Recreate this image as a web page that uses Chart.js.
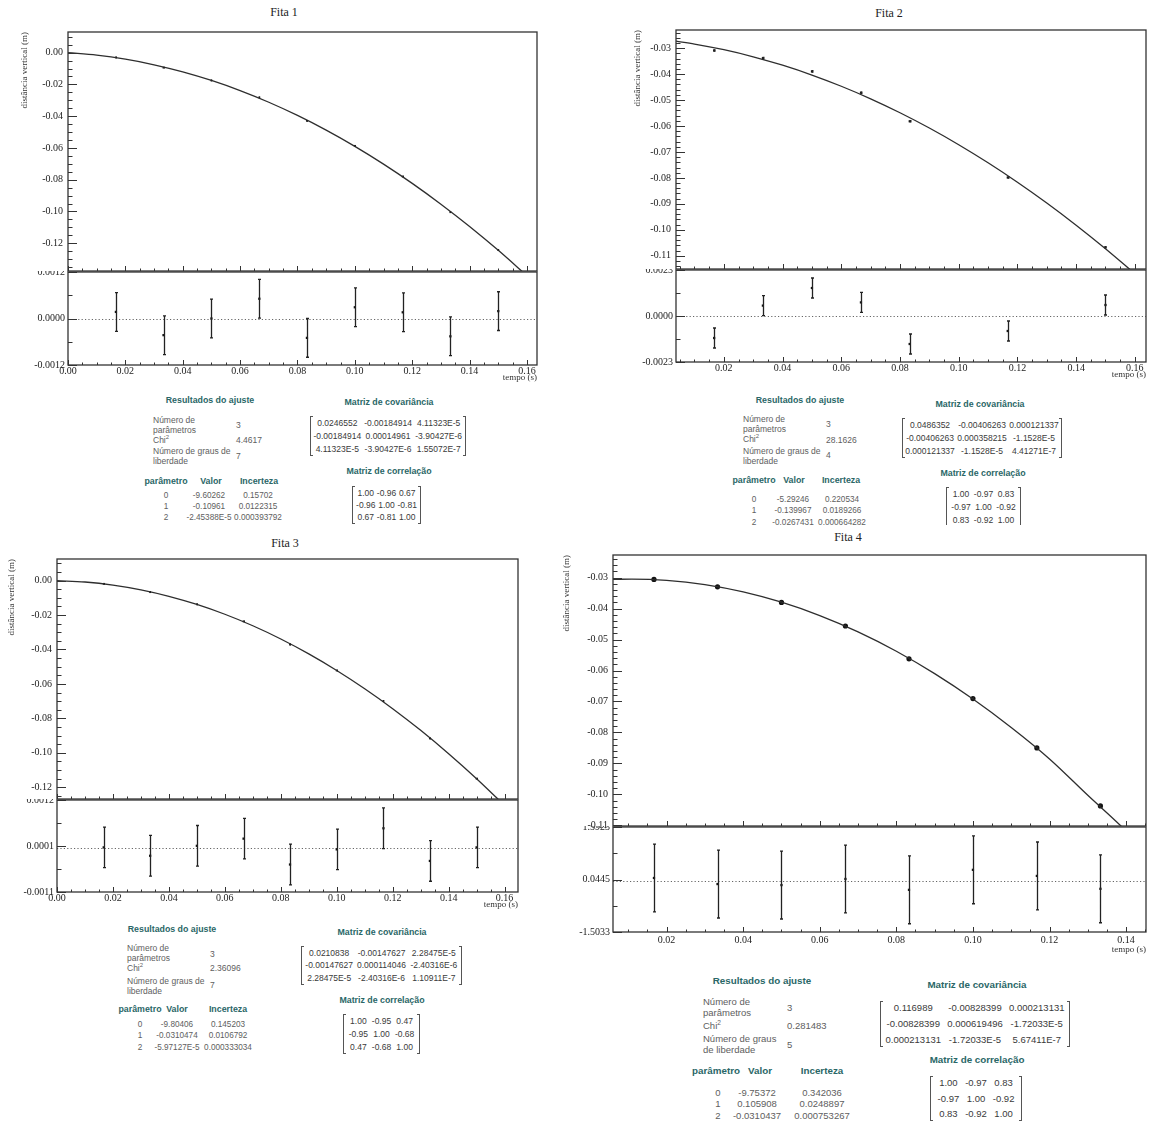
<!DOCTYPE html>
<html><head><meta charset="utf-8">
<script src="https://cdn.jsdelivr.net/npm/chart.js@4.4.1/dist/chart.umd.min.js"></script>
<style>
html,body{margin:0;padding:0;background:#fff}
body{width:1150px;height:1126px;position:relative;overflow:hidden}
canvas.cv{position:absolute}
.wrap{position:absolute;overflow:hidden}
.wrap canvas{position:absolute;left:0}
.ptitle{position:absolute;font-family:"Liberation Serif",serif;font-size:12px;color:#222;transform:translate(-50%,-50%);white-space:nowrap}
.t{position:absolute;font-family:"Liberation Sans",Arial,sans-serif;white-space:nowrap;line-height:1}
.t sup{font-size:70%;vertical-align:top;position:relative;top:-1px}
.clip{position:absolute;left:0;top:0;width:1150px;overflow:hidden}
.br{position:absolute;border:1px solid #555;width:3px;box-sizing:border-box}
.br.l{border-right:none}
.br.r{border-left:none}
</style></head><body>
<div class="clip" id="clipTop" style="height:525px"></div>
<div class="clip" id="clipBot" style="height:1126px"></div>
<script>
// ------------------------- DATA -------------------------
const xTicks = [0, 0.02, 0.04, 0.06, 0.08, 0.10, 0.12, 0.14, 0.16];
const xLabels = ['0.00','0.02','0.04','0.06','0.08','0.10','0.12','0.14','0.16'];
const yTicks02 = [0, -0.02, -0.04, -0.06, -0.08, -0.10, -0.12];
const yLabels02 = ['0.00','-0.02','-0.04','-0.06','-0.08','-0.10','-0.12'];
const yTicks01 = [-0.03, -0.04, -0.05, -0.06, -0.07, -0.08, -0.09, -0.10, -0.11];
const yLabels01 = ['-0.03','-0.04','-0.05','-0.06','-0.07','-0.08','-0.09','-0.10','-0.11'];
const curveT = [0, 0.01, 0.02, 0.03, 0.04, 0.05, 0.06, 0.07, 0.08, 0.09, 0.10, 0.11, 0.12, 0.13, 0.14, 0.15, 0.16];

// Fita 1
const fita1Tempo = [0.0167, 0.0333, 0.0500, 0.0667, 0.0833, 0.1000, 0.1167, 0.1333, 0.1500];
const fita1Dist = [-0.00302, -0.00944, -0.01751, -0.02817, -0.04300, -0.05871, -0.07800, -0.10046, -0.12431];
const fita1DistErr = [0.0005, 0.0005, 0.0005, 0.0005, 0.0005, 0.0005, 0.0005, 0.0005, 0.0005];
const fita1Res = [0.00017, -0.00043, 0.00000, 0.00051, -0.00050, 0.00029, 0.00016, -0.00046, 0.00019];
const fita1ResErr = [0.0005, 0.0005, 0.0005, 0.0005, 0.0005, 0.0005, 0.0005, 0.0005, 0.0005];
const fita1CurveT = curveT;
const fita1CurveY = [-0.00002, -0.00160, -0.00414, -0.00763, -0.01209, -0.01751, -0.02388, -0.03122, -0.03952, -0.04878, -0.05900, -0.07018, -0.08231, -0.09542, -0.10947, -0.12450, -0.14048];
const fita1ResTicks = [-0.0012, 0, 0.0012];
const fita1ResLabels = ['-0.0012', '0.0000', '0.0012'];
const fita1Fit = ['3', '4.4617', '7'];
const fita1Valor = ['-9.60262', '-0.10961', '-2.45388E-5'];
const fita1Incerteza = ['0.15702', '0.0122315', '0.000393792'];
const fita1Cov = [['0.0246552','-0.00184914','4.11323E-5'],['-0.00184914','0.00014961','-3.90427E-6'],['4.11323E-5','-3.90427E-6','1.55072E-7']];
const fita1Corr = [['1.00','-0.96','0.67'],['-0.96','1.00','-0.81'],['0.67','-0.81','1.00']];

// Fita 2
const fita2Tempo = [0.0167, 0.0333, 0.0500, 0.0667, 0.0833, 0.1167, 0.1500];
const fita2Dist = [-0.03090, -0.03383, -0.03896, -0.04716, -0.05818, -0.07984, -0.10673];
const fita2DistErr = [0.0005, 0.0005, 0.0005, 0.0005, 0.0005, 0.0005, 0.0005];
const fita2Res = [-0.00110, 0.00052, 0.00140, 0.00068, -0.00140, -0.00075, 0.00055];
const fita2ResErr = [0.0005, 0.0005, 0.0005, 0.0005, 0.0005, 0.0005, 0.0005];
const fita2CurveT = [0.0037, 0.01, 0.02, 0.03, 0.04, 0.05, 0.06, 0.07, 0.08, 0.09, 0.10, 0.11, 0.12, 0.13, 0.14, 0.15, 0.16];
const fita2CurveY = [-0.02730, -0.02841, -0.03060, -0.03332, -0.03658, -0.04036, -0.04467, -0.04951, -0.05488, -0.06077, -0.06720, -0.07416, -0.08165, -0.08966, -0.09821, -0.10728, -0.11688];
const fita2ResTicks = [-0.0023, 0, 0.0023];
const fita2ResLabels = ['-0.0023', '0.0000', '0.0023'];
const fita2Fit = ['3', '28.1626', '4'];
const fita2Valor = ['-5.29246', '-0.139967', '-0.0267431'];
const fita2Incerteza = ['0.220534', '0.0189266', '0.000664282'];
const fita2Cov = [['0.0486352','-0.00406263','0.000121337'],['-0.00406263','0.000358215','-1.1528E-5'],['0.000121337','-1.1528E-5','4.41271E-7']];
const fita2Corr = [['1.00','-0.97','0.83'],['-0.97','1.00','-0.92'],['0.83','-0.92','1.00']];

// Fita 3
const fita3Tempo = [0.0167, 0.0333, 0.0500, 0.0667, 0.0833, 0.1000, 0.1167, 0.1333, 0.1500];
const fita3Dist = [-0.00192, -0.00673, -0.01381, -0.02368, -0.03710, -0.05221, -0.06990, -0.09167, -0.11499];
const fita3DistErr = [0.0005, 0.0005, 0.0005, 0.0005, 0.0005, 0.0005, 0.0005, 0.0005, 0.0005];
const fita3Res = [0.00002, -0.00019, 0.00006, 0.00024, -0.00041, -0.00003, 0.00050, -0.00032, 0.00002];
const fita3ResErr = [0.00051, 0.00051, 0.00051, 0.00051, 0.00051, 0.00051, 0.00051, 0.00051, 0.00051];
const fita3CurveT = curveT;
const fita3CurveY = [-0.00006, -0.00086, -0.00264, -0.00540, -0.00914, -0.01387, -0.01957, -0.02625, -0.03392, -0.04256, -0.05218, -0.06279, -0.07437, -0.08694, -0.10049, -0.11501, -0.13052];
const fita3ResTicks = [-0.0011, 0.000055, 0.00121];
const fita3ResLabels = ['-0.0011', '0.0001', '0.0012'];
const fita3Fit = ['3', '2.36096', '7'];
const fita3Valor = ['-9.80406', '-0.0310474', '-5.97127E-5'];
const fita3Incerteza = ['0.145203', '0.0106792', '0.000333034'];
const fita3Cov = [['0.0210838','-0.00147627','2.28475E-5'],['-0.00147627','0.000114046','-2.40316E-6'],['2.28475E-5','-2.40316E-6','1.10911E-7']];
const fita3Corr = [['1.00','-0.95','0.47'],['-0.95','1.00','-0.68'],['0.47','-0.68','1.00']];

// Fita 4
const fita4Tempo = [0.0167, 0.0333, 0.0500, 0.0667, 0.0833, 0.1000, 0.1167, 0.1333];
const fita4Dist = [-0.03059, -0.03297, -0.03800, -0.04563, -0.05621, -0.06905, -0.08499, -0.10373];
const fita4DistErr = [0.0005, 0.0005, 0.0005, 0.0005, 0.0005, 0.0005, 0.0005, 0.0005];
const fita4Res = [0.09, -0.09, -0.12, 0.06, -0.26, 0.33, 0.15, -0.23];
const fita4ResErr = [1.0, 1.0, 1.0, 1.0, 1.0, 1.0, 1.0, 1.0];
const fita4CurveT = [0.006, 0.0109, 0.02, 0.03, 0.04, 0.05, 0.06, 0.07, 0.08, 0.09, 0.10, 0.11, 0.12, 0.13, 0.14, 0.15];
const fita4CurveY = [-0.03058, -0.03047, -0.03088, -0.03226, -0.03461, -0.03794, -0.04225, -0.04753, -0.05378, -0.06101, -0.06922, -0.07840, -0.08856, -0.10029, -0.11180, -0.12489];
const fita4ResTicks = [-1.5033, 0.0445, 1.5923];
const fita4ResLabels = ['-1.5033', '0.0445', '1.5923'];
const fita4Fit = ['3', '0.281483', '5'];
const fita4Valor = ['-9.75372', '0.105908', '-0.0310437'];
const fita4Incerteza = ['0.342036', '0.0248897', '0.000753267'];
const fita4Cov = [['0.116989','-0.00828399','0.000213131'],['-0.00828399','0.000619496','-1.72033E-5'],['0.000213131','-1.72033E-5','5.67411E-7']];
const fita4Corr = [['1.00','-0.97','0.83'],['-0.97','1.00','-0.92'],['0.83','-0.92','1.00']];

const fitLabels = ['Número de', 'parâmetros', 'Chi2', 'Número de graus de', 'liberdade'];
const fitLabels4 = ['Número de', 'parâmetros', 'Chi2', 'Número de graus', 'de liberdade'];
const paramHead = ['parâmetro', 'Valor', 'Incerteza'];
const paramIdx = ['0', '1', '2'];

// ------------------------- PLUGINS -------------------------
Chart.defaults.font.family = '"Liberation Serif","Times New Roman",serif';
Chart.defaults.font.size = 10;
Chart.defaults.color = '#222';

function subTicks(majors, sub, min, max) {
  const m = majors.slice().sort((a, b) => a - b);
  const out = [];
  if (m.length < 2) return out;
  const step = (m[1] - m[0]) / sub;
  const base = m[0];
  const k0 = Math.ceil((min - base) / step - 1e-6), k1 = Math.floor((max - base) / step + 1e-6);
  for (let k = k0; k <= k1; k++) out.push({ v: base + k * step, major: ((k % sub) + sub) % sub === 0 });
  return out;
}

const rootFrame = {
  id: 'rootFrame',
  beforeDatasetsDraw(chart, args, o) {
    if (o.zero == null) return;
    const { ctx, chartArea: a } = chart;
    const py = Math.round(chart.scales.y.getPixelForValue(o.zero)) + 0.5;
    ctx.save();
    ctx.strokeStyle = '#666'; ctx.lineWidth = 1; ctx.setLineDash([1.2, 2.2]);
    ctx.beginPath(); ctx.moveTo(a.left, py); ctx.lineTo(a.right, py); ctx.stroke();
    ctx.restore();
  },
  afterDatasetsDraw(chart, args, o) {
    const { ctx, chartArea: a } = chart;
    const x = chart.scales.x, y = chart.scales.y;
    ctx.save();
    ctx.strokeStyle = '#333'; ctx.lineWidth = 1;
    ctx.beginPath();
    subTicks(o.yMajors, o.ySub, y.min, y.max).forEach(t => {
      const p = Math.round(y.getPixelForValue(t.v)) + 0.5;
      ctx.moveTo(a.left, p); ctx.lineTo(a.left + (t.major ? o.yLen[0] : o.yLen[1]), p);
    });
    subTicks(o.xMajors, o.xSub, x.min, x.max).forEach(t => {
      const p = Math.round(x.getPixelForValue(t.v)) + 0.5;
      ctx.moveTo(p, a.bottom); ctx.lineTo(p, a.bottom - (t.major ? o.xLen[0] : o.xLen[1]));
    });
    ctx.stroke();
    ctx.lineWidth = 1.3; ctx.strokeStyle = '#333';
    ctx.strokeRect(a.left, a.top, a.right - a.left, a.bottom - a.top);
    ctx.restore();
  }
};

const errorBars = {
  id: 'errorBars',
  afterDatasetsDraw(chart) {
    const { ctx, chartArea: a } = chart;
    const y = chart.scales.y;
    chart.data.datasets.forEach((ds, i) => {
      if (!ds.errors) return;
      const meta = chart.getDatasetMeta(i);
      ctx.save();
      ctx.beginPath(); ctx.rect(a.left, a.top, a.right - a.left, a.bottom - a.top); ctx.clip();
      ctx.strokeStyle = '#222'; ctx.lineWidth = ds.errorWidth || 1.2;
      ctx.beginPath();
      meta.data.forEach((pt, j) => {
        const v = ds.data[j].y, e = ds.errors[j];
        const y1 = y.getPixelForValue(v - e), y2 = y.getPixelForValue(v + e);
        const px = Math.round(pt.x) + 0.5, c = ds.capHalf || 0;
        ctx.moveTo(px, y1); ctx.lineTo(px, y2);
        if (c > 0) { ctx.moveTo(px - c, y1); ctx.lineTo(px + c, y1); ctx.moveTo(px - c, y2); ctx.lineTo(px + c, y2); }
      });
      ctx.stroke();
      ctx.restore();
    });
  }
};

function pts(xs, ys) { return xs.map((t, i) => ({ x: t, y: ys[i] })); }
function tickSetter(vals) {
  return s => { s.ticks = vals.filter(v => v >= s.min - 1e-9 && v <= s.max + 1e-9).map(v => ({ value: v })); };
}
function labeler(vals, labels) { return v => labels[vals.indexOf(v)]; }

function makeCanvas(parent, left, topPx, w, h) {
  const c = document.createElement('canvas');
  c.className = 'cv'; c.width = w; c.height = h;
  c.style.left = left + 'px'; c.style.top = topPx + 'px';
  c.style.width = w + 'px'; c.style.height = h + 'px';
  parent.appendChild(c);
  return c;
}

function buildPanel(g, d) {
  const tt = document.createElement('div');
  tt.className = 'ptitle'; tt.textContent = d.title;
  tt.style.left = g.titleX + 'px'; tt.style.top = g.titleY + 'px';
  document.body.appendChild(tt);

  const cw = g.cr - g.cl, yW = g.L - g.cl, padR = g.cr - g.R;
  const mTop = g.T - 30, mH = g.S - mTop + 10;
  const mc = makeCanvas(document.body, g.cl, mTop, cw, mH);
  new Chart(mc, {
    type: 'scatter',
    data: { datasets: [
      { data: pts(d.curveT, d.curveY), showLine: true, pointRadius: 0, borderColor: '#2e2e2e', borderWidth: 1.3, cubicInterpolationMode: 'monotone', fill: false },
      { data: pts(d.t, d.y), showLine: false, pointStyle: d.ptStyle, pointRadius: d.ptR, backgroundColor: '#111', borderColor: '#111', borderWidth: 0, errors: d.yErr, capHalf: 0, errorWidth: d.errW }
    ] },
    options: {
      responsive: false, animation: false, events: [],
      layout: { padding: { top: 30, bottom: 10, left: 0, right: padR } },
      plugins: { legend: { display: false }, tooltip: { enabled: false },
        rootFrame: { yMajors: d.yTicks, ySub: d.ySub, yLen: [9, 4.5], xMajors: xTicks, xSub: 4, xLen: [5, 2.5] } },
      scales: {
        x: { type: 'linear', display: false, min: d.xmin, max: d.xmax },
        y: { type: 'linear', min: d.ymin, max: d.ymax,
          afterBuildTicks: tickSetter(d.yTicks), afterFit: s => { s.width = yW; },
          grid: { display: false, drawTicks: false, tickLength: 0 }, border: { display: false },
          ticks: { padding: 5, autoSkip: false, callback: labeler(d.yTicks, d.yLabels) },
          title: { display: true, text: 'distância vertical (m)', align: 'end', color: '#333', font: { size: 9 },
            padding: { top: g.yTitleX - g.cl - 5.4, bottom: 0 } } }
      }
    },
    plugins: [rootFrame, errorBars]
  });

  const xH = 34;
  const wrap = document.createElement('div');
  wrap.className = 'wrap';
  wrap.style.left = g.cl + 'px'; wrap.style.top = (g.S - 1) + 'px';
  wrap.style.width = cw + 'px'; wrap.style.height = (g.B - g.S + 1 + xH) + 'px';
  document.body.appendChild(wrap);
  const rH = g.B - (g.S - 12) + xH;
  const rc = makeCanvas(wrap, 0, -11, cw, rH);
  new Chart(rc, {
    type: 'scatter',
    data: { datasets: [
      { data: pts(d.t, d.res), showLine: false, pointStyle: 'rect', pointRadius: 1.6, backgroundColor: '#111', borderColor: '#111', borderWidth: 0, errors: d.resErr, capHalf: 1.5, errorWidth: 1.3 }
    ] },
    options: {
      responsive: false, animation: false, events: [],
      layout: { padding: { top: 12, bottom: 0, left: 0, right: padR } },
      plugins: { legend: { display: false }, tooltip: { enabled: false },
        rootFrame: { zero: 0, yMajors: d.resTicks, ySub: 2, yLen: [9, 4.5], xMajors: xTicks, xSub: 4, xLen: [5, 2.5] } },
      scales: {
        x: { type: 'linear', min: d.xmin, max: d.xmax,
          afterBuildTicks: tickSetter(xTicks), afterFit: s => { s.height = xH; },
          grid: { display: false, drawTicks: false, tickLength: 0 }, border: { display: false },
          ticks: { padding: g.xLabPad, autoSkip: false, maxRotation: 0, callback: labeler(xTicks, xLabels) },
          title: { display: true, text: 'tempo (s)', align: 'end', color: '#333', font: { size: 9 },
            padding: { top: 0, bottom: xH - g.tempoOff - 5.4 } } },
        y: { type: 'linear', min: d.rmin, max: d.rmax,
          afterBuildTicks: tickSetter(d.resTicks), afterFit: s => { s.width = yW; },
          grid: { display: false, drawTicks: false, tickLength: 0 }, border: { display: false },
          ticks: { padding: 3, autoSkip: false, callback: labeler(d.resTicks, d.resLabels) } }
      }
    },
    plugins: [rootFrame, errorBars]
  });
}

// ------------------------- TEXT BLOCKS -------------------------
const HEAD = '#2a6767', BODY = '#5e5e5e', MAT = '#3a3a3a';
function txt(parent, x, y, s, align, style) {
  const d = document.createElement('div');
  d.className = 't';
  if (s === 'Chi2') d.innerHTML = 'Chi<sup>2</sup>'; else d.textContent = s;
  d.style.left = x + 'px'; d.style.top = y + 'px';
  d.style.transform = align === 'center' ? 'translate(-50%,-50%)' : 'translateY(-50%)';
  Object.assign(d.style, style);
  parent.appendChild(d);
}
function bracket(parent, L, R, t0, t1) {
  const l = document.createElement('div'); l.className = 'br l';
  l.style.left = L + 'px'; l.style.top = t0 + 'px'; l.style.height = (t1 - t0) + 'px';
  const r = document.createElement('div'); r.className = 'br r';
  r.style.left = (R - 3) + 'px'; r.style.top = t0 + 'px'; r.style.height = (t1 - t0) + 'px';
  parent.appendChild(l); parent.appendChild(r);
}
function fitBlock(parent, g, d) {
  const fs = g.fs + 'px', hs = (g.fs + 0.3) + 'px';
  const hst = { fontSize: hs, fontWeight: 'bold', color: HEAD };
  const bst = { fontSize: fs, color: BODY };
  const vst = { fontSize: g.vfs + 'px', color: BODY };
  const mst = { fontSize: fs, color: MAT };
  txt(parent, g.head[0], g.head[1], 'Resultados do ajuste', 'center', hst);
  d.labels.forEach((s, i) => txt(parent, g.lx, g.lys[i], s, 'left', bst));
  d.fit.forEach((s, i) => txt(parent, g.vx, g.vys[i], s, 'left', bst));
  paramHead.forEach((s, i) => txt(parent, g.hcols[i], g.th, s, 'center', hst));
  paramIdx.forEach((s, i) => {
    txt(parent, g.cols[0], g.rows[i], s, 'center', vst);
    txt(parent, g.cols[1], g.rows[i], d.valor[i], 'center', vst);
    txt(parent, g.cols[2], g.rows[i], d.inc[i], 'center', vst);
  });
  [[g.cov, d.cov, 'Matriz de covariância', [0.175, 0.5, 0.825]], [g.corr, d.corr, 'Matriz de correlação', [0.2, 0.5, 0.8]]].forEach(([m, vals, head, fr]) => {
    txt(parent, m.cx, m.hy, head, 'center', hst);
    const W = m.R - m.L;
    vals.forEach((row, r) => row.forEach((s, c) => txt(parent, m.L + W * fr[c], m.rows[r], s, 'center', mst)));
    bracket(parent, m.L, m.R, m.rows[0] - 7, m.rows[2] + 7);
  });
}

// ------------------------- BUILD -------------------------
buildPanel({ L: 68, R: 537, T: 32, S: 272, B: 365, cl: 0, cr: 560, titleX: 284, titleY: 12, yTitleX: 25, xLabPad: 0, tempoOff: 13 },
  { title: 'Fita 1', t: fita1Tempo, y: fita1Dist, yErr: fita1DistErr, res: fita1Res, resErr: fita1ResErr, curveT: fita1CurveT, curveY: fita1CurveY,
    xmin: 0, xmax: 0.1635, ymin: -0.1375, ymax: 0.013, yTicks: yTicks02, yLabels: yLabels02, ySub: 4,
    rmin: -0.0012, rmax: 0.0012, resTicks: fita1ResTicks, resLabels: fita1ResLabels, ptStyle: 'rect', ptR: 1.3, errW: 1 });
buildPanel({ L: 676, R: 1146, T: 30, S: 270, B: 362, cl: 580, cr: 1150, titleX: 889, titleY: 13, yTitleX: 638, xLabPad: 0, tempoOff: 13 },
  { title: 'Fita 2', t: fita2Tempo, y: fita2Dist, yErr: fita2DistErr, res: fita2Res, resErr: fita2ResErr, curveT: fita2CurveT, curveY: fita2CurveY,
    xmin: 0.0037, xmax: 0.1638, ymin: -0.1151, ymax: -0.0230, yTicks: yTicks01, yLabels: yLabels01, ySub: 5,
    rmin: -0.0023, rmax: 0.0023, resTicks: fita2ResTicks, resLabels: fita2ResLabels, ptStyle: 'rect', ptR: 1.5, errW: 2 });
buildPanel({ L: 57, R: 518, T: 559, S: 800, B: 892, cl: 0, cr: 560, titleX: 285, titleY: 543, yTitleX: 12, xLabPad: 0, tempoOff: 13 },
  { title: 'Fita 3', t: fita3Tempo, y: fita3Dist, yErr: fita3DistErr, res: fita3Res, resErr: fita3ResErr, curveT: fita3CurveT, curveY: fita3CurveY,
    xmin: 0, xmax: 0.1648, ymin: -0.1268, ymax: 0.0125, yTicks: yTicks02, yLabels: yLabels02, ySub: 4,
    rmin: -0.0011, rmax: 0.00121, resTicks: fita3ResTicks, resLabels: fita3ResLabels, ptStyle: 'rect', ptR: 1.3, errW: 1 });
buildPanel({ L: 613, R: 1146, T: 555, S: 827, B: 932, cl: 560, cr: 1150, titleX: 848, titleY: 537, yTitleX: 567, xLabPad: 2, tempoOff: 18 },
  { title: 'Fita 4', t: fita4Tempo, y: fita4Dist, yErr: fita4DistErr, res: fita4Res, resErr: fita4ResErr, curveT: fita4CurveT, curveY: fita4CurveY,
    xmin: 0.006, xmax: 0.1452, ymin: -0.1102, ymax: -0.0227, yTicks: yTicks01, yLabels: yLabels01, ySub: 5,
    rmin: -1.5033, rmax: 1.5923, resTicks: fita4ResTicks, resLabels: fita4ResLabels, ptStyle: 'circle', ptR: 2.6, errW: 1 });

const clipTopEl = document.getElementById('clipTop'), clipBotEl = document.getElementById('clipBot');
fitBlock(clipTopEl, { fs: 8.5, vfs: 8.2, head: [210, 400], lx: 153, vx: 236, lys: [420, 430, 440, 451, 461], vys: [425, 440, 456], th: 481, hcols: [166, 211, 259], cols: [166, 209, 258], rows: [496, 507, 518],
  cov: { cx: 389, hy: 402, rows: [423, 436, 449], L: 310, R: 466 }, corr: { cx: 389, hy: 471, rows: [493, 505, 517], L: 352, R: 421 } },
  { labels: fitLabels, fit: fita1Fit, valor: fita1Valor, inc: fita1Incerteza, cov: fita1Cov, corr: fita1Corr });
fitBlock(clipTopEl, { fs: 8.5, vfs: 8.2, head: [800, 400], lx: 743, vx: 826, lys: [419, 429, 439, 451, 461], vys: [424, 440, 455], th: 480, hcols: [754, 794, 841], cols: [754, 793, 842], rows: [500, 511, 523],
  cov: { cx: 980, hy: 404, rows: [425, 438, 451], L: 902, R: 1062 }, corr: { cx: 983, hy: 473, rows: [494, 507, 520], L: 946, R: 1021 } },
  { labels: fitLabels, fit: fita2Fit, valor: fita2Valor, inc: fita2Incerteza, cov: fita2Cov, corr: fita2Corr });
fitBlock(clipBotEl, { fs: 8.5, vfs: 8.2, head: [172, 929], lx: 127, vx: 210, lys: [948, 958, 968, 981, 991], vys: [954, 968, 985], th: 1009, hcols: [140, 177, 228], cols: [140, 177, 228], rows: [1025, 1036, 1048],
  cov: { cx: 382, hy: 932, rows: [953, 965, 978], L: 301, R: 462 }, corr: { cx: 382, hy: 1000, rows: [1021, 1034, 1047], L: 343, R: 420 } },
  { labels: fitLabels, fit: fita3Fit, valor: fita3Valor, inc: fita3Incerteza, cov: fita3Cov, corr: fita3Corr });
fitBlock(clipBotEl, { fs: 9.5, vfs: 9.5, head: [762, 981], lx: 703, vx: 787, lys: [1002, 1013, 1026, 1039, 1050], vys: [1008, 1026, 1045], th: 1071, hcols: [716, 760, 822], cols: [718, 757, 822], rows: [1093, 1104, 1116],
  cov: { cx: 977, hy: 985, rows: [1008, 1024, 1040], L: 880, R: 1070 }, corr: { cx: 977, hy: 1060, rows: [1083, 1099, 1114], L: 930, R: 1022 } },
  { labels: fitLabels4, fit: fita4Fit, valor: fita4Valor, inc: fita4Incerteza, cov: fita4Cov, corr: fita4Corr });
</script>
</body></html>
